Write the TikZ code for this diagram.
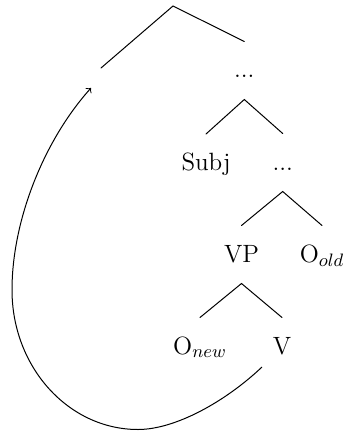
\documentclass[tikz,border=0pt]{standalone}
\begin{document}
\begin{tikzpicture}[x=0.5pt,y=-0.5pt,
  every path/.style={line width=0.5pt},
  lbl/.style={anchor=base,inner xsep=0pt,inner ysep=10.5pt,
    text height=7.5pt,text depth=0pt,font=\fontsize{12.5}{15}\selectfont},
  branch/.style={draw,line cap=round},
  movement/.style={draw,->}]
\useasboundingbox (0,0) rectangle (349,433);

% tree labels
\node[lbl] (d1)   at (244.3,78)  {...};
\node[lbl] (subj) at (206,170.5) {Subj};
\node[lbl] (d2)   at (282.7,170) {...};
\node[lbl] (vp)   at (241.5,262) {VP};
\node[lbl] (oold) at (322,262)   {O$_{old}$};
\node[lbl] (onew) at (200,354)   {O$_{new}$};
\node[lbl] (v)    at (282,354)   {V};

% root and the empty landing site on its left
\coordinate (root) at (173,6);
\coordinate (gap)  at (101,68);
\coordinate (land) at (91,88);
\coordinate (vfoot) at (262,367);

% branches
\path[branch] (gap) -- (root) -- (d1.north);
\path[branch] (subj.north) -- (d1.south) -- (d2.north);
\path[branch] (vp.north) -- (d2.south) -- (oold.north);
\path[branch] (onew.north) -- (vp.south) -- (v.north);

% movement arrow from V up to the empty position
\path[movement] (vfoot)
  .. controls (225,402) and (175,429.5) .. (138,429.5)
  .. controls (68.4,429.5) and (12,367) .. (12,290)
  .. controls (12,220) and (44.2,140) .. (land);
\end{tikzpicture}
\end{document}
